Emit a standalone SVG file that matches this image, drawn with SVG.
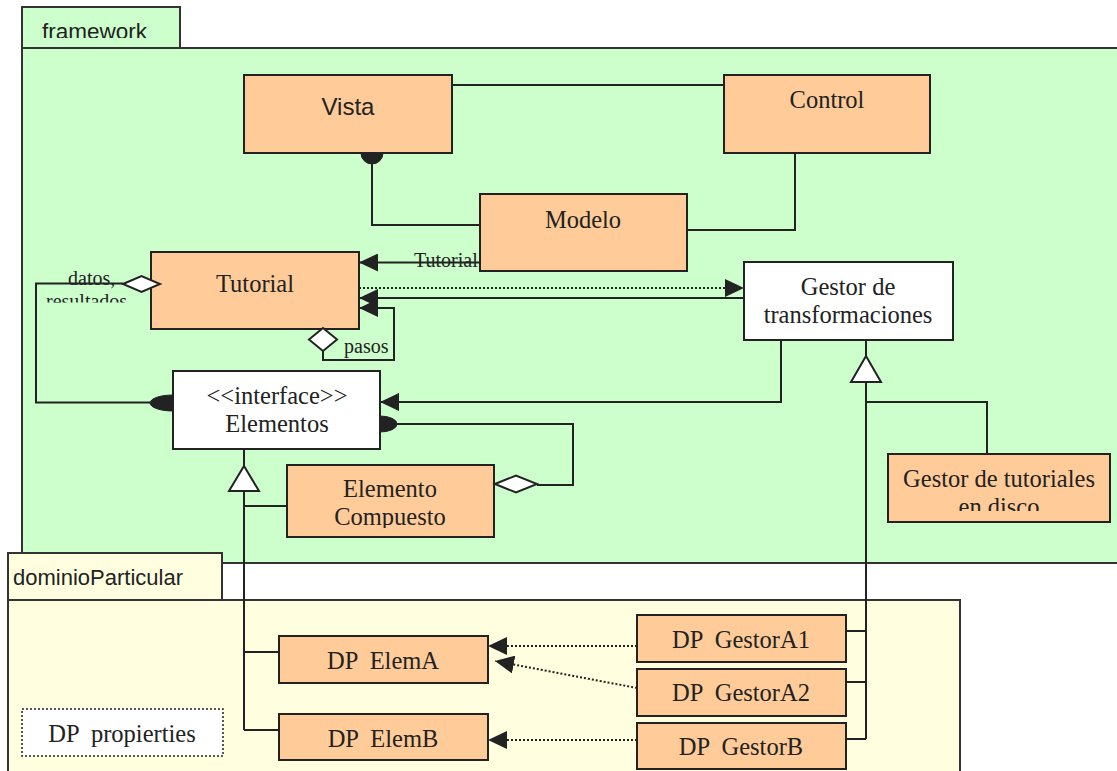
<svg xmlns="http://www.w3.org/2000/svg" width="1117" height="771" viewBox="0 0 1117 771">
  <style>
    .pkg-fw { fill: #ccffcc; stroke: #333; stroke-width: 2; }
    .pkg-dp { fill: #ffffe0; stroke: #333; stroke-width: 2; }
    .cls { fill: #ffcc99; stroke: #222; stroke-width: 2; }
    .ifc { fill: #ffffff; stroke: #222; stroke-width: 2; }
    .note { fill: #ffffff; stroke: #222; stroke-width: 1.5; stroke-dasharray: 2 2; }
    .ln { fill: none; stroke: #222; stroke-width: 2; }
    .dot { fill: none; stroke: #222; stroke-width: 2; stroke-dasharray: 2 2; }
    .dia { fill: #ffffff; stroke: #222; stroke-width: 2; }
    .tri { fill: #ffffff; stroke: #222; stroke-width: 2; }
    .ball { fill: #222; stroke: #222; stroke-width: 1; }
    .sans { font-family: "Liberation Sans", Arial, sans-serif; fill: #222; }
    .serif { font-family: "Liberation Serif", "Times New Roman", serif; fill: #222; }
    .t24 { font-size: 24.5px; }
    .t20 { font-size: 20px; }
    .mid { text-anchor: middle; }
  </style>
  <defs>
    <marker id="arrow" markerUnits="userSpaceOnUse" markerWidth="20" markerHeight="18" refX="19" refY="9" orient="auto">
      <path d="M0,0 L19,9 L0,18 Z" fill="#222"/>
    </marker>
    <clipPath id="clipFwTab"><rect x="22" y="7" width="158" height="31"/></clipPath>
    <clipPath id="clipTutorial"><rect x="0" y="260" width="150" height="42.5"/></clipPath>
    <clipPath id="clipDisco"><rect x="888" y="454" width="222" height="57"/></clipPath>
    <clipPath id="clipCompuesto"><rect x="287" y="465" width="207" height="63"/></clipPath>
  </defs>

  <!-- package: framework -->
  <g id="pkg-framework">
    <rect class="pkg-fw" x="22" y="48" width="1110" height="515"/>
    <rect class="pkg-fw" x="22" y="7" width="158" height="41"/>
    <text class="sans" x="42" y="38.5" font-size="22.5" clip-path="url(#clipFwTab)">framework</text>
  </g>

  <!-- package: dominioParticular -->
  <g id="pkg-dominio">
    <rect class="pkg-dp" x="8" y="600" width="952" height="190"/>
    <rect class="pkg-dp" x="8" y="553" width="214" height="47"/>
    <text class="sans" x="13" y="585" font-size="22">dominioParticular</text>
  </g>

  <g id="vista">
    <rect class="cls" x="244" y="75" width="208" height="78"/>
    <text class="sans mid" x="348" y="115" font-size="24">Vista</text>
  </g>

  <g id="control">
    <rect class="cls" x="724" y="75" width="206" height="78"/>
    <text class="serif t24 mid" x="827" y="108">Control</text>
  </g>

  <g id="modelo">
    <rect class="cls" x="480" y="194" width="207" height="77"/>
    <text class="serif t24 mid" x="583" y="228">Modelo</text>
  </g>

  <g id="tutorial">
    <rect class="cls" x="151" y="252" width="208" height="77"/>
    <text class="serif t24 mid" x="255" y="292">Tutorial</text>
  </g>

  <g id="gestor-transformaciones">
    <rect class="ifc" x="744" y="262" width="209" height="78"/>
    <text class="serif t24 mid" x="848" y="295">Gestor de</text>
    <text class="serif t24 mid" x="848" y="323">transformaciones</text>
  </g>

  <g id="elementos">
    <rect class="ifc" x="173" y="371" width="207" height="78"/>
    <text class="serif t24 mid" x="277" y="404">&lt;&lt;interface&gt;&gt;</text>
    <text class="serif t24 mid" x="277" y="432">Elementos</text>
  </g>

  <g id="elemento-compuesto">
    <rect class="cls" x="287" y="465" width="207" height="72"/>
    <g clip-path="url(#clipCompuesto)">
      <text class="serif t24 mid" x="390" y="497">Elemento</text>
      <text class="serif t24 mid" x="390" y="525">Compuesto</text>
    </g>
  </g>

  <g id="gestor-tutoriales-disco">
    <rect class="cls" x="888" y="454" width="222" height="68"/>
    <g clip-path="url(#clipDisco)">
      <text class="serif t24 mid" x="999" y="487">Gestor de tutoriales</text>
      <text class="serif t24 mid" x="999" y="515">en disco</text>
    </g>
  </g>

  <g id="dp-elema">
    <rect class="cls" x="279" y="636" width="209" height="47"/>
    <text class="serif t24 mid" x="383" y="669" xml:space="preserve">DP  ElemA</text>
  </g>

  <g id="dp-elemb">
    <rect class="cls" x="279" y="714" width="209" height="46"/>
    <text class="serif t24 mid" x="383" y="747" xml:space="preserve">DP  ElemB</text>
  </g>

  <g id="dp-propierties">
    <rect class="note" x="22" y="709" width="201" height="47"/>
    <text class="serif t24 mid" x="122" y="742" xml:space="preserve">DP  propierties</text>
  </g>

  <g id="dp-gestora1">
    <rect class="cls" x="637" y="615" width="209" height="47"/>
    <text class="serif t24 mid" x="741" y="648" xml:space="preserve">DP  GestorA1</text>
  </g>

  <g id="dp-gestora2">
    <rect class="cls" x="637" y="669" width="209" height="47"/>
    <text class="serif t24 mid" x="741" y="701" xml:space="preserve">DP  GestorA2</text>
  </g>

  <g id="dp-gestorb">
    <rect class="cls" x="637" y="723" width="209" height="46"/>
    <text class="serif t24 mid" x="741" y="755" xml:space="preserve">DP  GestorB</text>
  </g>

  <!-- connectors -->
  <g id="connectors">
    <!-- Vista - Control -->
    <path class="ln" d="M452,85 H724"/>
    <!-- Vista (ball) - Modelo -->
    <path class="ball" d="M361,153 A11,11 0 0 0 383,153 Z"/>
    <path class="ln" d="M372,164 V225 H480"/>
    <!-- Control - Modelo -->
    <path class="ln" d="M795,153 V230 H687"/>
    <!-- Modelo -> Tutorial -->
    <text class="serif t20" x="414" y="267">Tutorial</text>
    <path class="ln" d="M480,262.5 H359" marker-end="url(#arrow)"/>
    <!-- Tutorial ..> Gestor de transformaciones -->
    <path class="dot" d="M359,288 H744" marker-end="url(#arrow)"/>
    <!-- Gestor de transformaciones -> Tutorial -->
    <path class="ln" d="M744,298 H359" marker-end="url(#arrow)"/>
    <!-- pasos self association -->
    <path class="ln" d="M323,351 V360 H394 V308 H359" marker-end="url(#arrow)"/>
    <polygon class="dia" points="323,328 337,339.5 323,351 309,339.5"/>
    <text class="serif t20" x="344" y="353">pasos</text>
    <!-- datos, resultados: Tutorial <>- Elementos -->
    <path class="ln" d="M123,283.5 H36 V402.5 H150"/>
    <polygon class="dia" points="123,284 141.5,276 160,284 141.5,292"/>
    <g clip-path="url(#clipTutorial)">
      <text class="serif t20" x="68" y="285">datos,</text>
      <text class="serif t20" x="46" y="308">resultados</text>
    </g>
    <path class="ball" d="M173,395 A23,8 0 0 0 173,411 Z"/>
    <!-- Elementos (ball) - Elemento Compuesto <> -->
    <path class="ball" d="M380,416 A17,8 0 0 1 380,432 Z"/>
    <path class="ln" d="M397,424 H573 V485 H537"/>
    <polygon class="dia" points="495,484 516,475.5 537,484 516,492.5"/>
    <!-- Gestor de transformaciones -> Elementos -->
    <path class="ln" d="M781,340 V402 H380" marker-end="url(#arrow)"/>
    <!-- generalization to Gestor de transformaciones -->
    <path class="ln" d="M866,340 V356"/>
    <path class="ln" d="M866,382 V739"/>
    <path class="ln" d="M866,402 H987 V454"/>
    <path class="ln" d="M846,631 H866"/>
    <path class="ln" d="M846,682 H866"/>
    <path class="ln" d="M846,739 H866"/>
    <polygon class="tri" points="866,356 881,382 851,382"/>
    <!-- generalization to Elementos -->
    <path class="ln" d="M244,449 V466"/>
    <path class="ln" d="M244,491 V730"/>
    <path class="ln" d="M244,506 H287"/>
    <path class="ln" d="M244,652 H279"/>
    <path class="ln" d="M244,730 H279"/>
    <polygon class="tri" points="244,466 259,491 229,491"/>
    <!-- DP gestores ..> DP elementos -->
    <path class="dot" d="M637,646 H488" marker-end="url(#arrow)"/>
    <path class="dot" d="M637,688 L495,661" marker-end="url(#arrow)"/>
    <path class="dot" d="M637,740 H488" marker-end="url(#arrow)"/>
  </g>
</svg>
